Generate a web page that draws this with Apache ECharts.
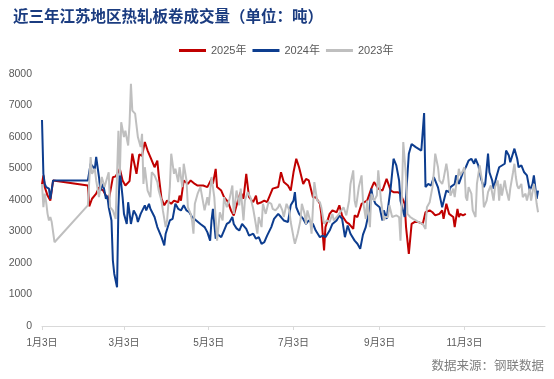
<!DOCTYPE html>
<html><head><meta charset="utf-8">
<script src="https://cdn.jsdelivr.net/npm/echarts@6/dist/echarts.min.js"></script>
<style>html,body{margin:0;padding:0;background:#fff}#c{width:554px;height:379px}</style>
</head><body><div id="c"></div>
<script>
// x values are day offsets counted from 1月3日
const tickDays = [0, 59, 120, 181, 243, 304];
const tickLabels = ['1月3日', '3月3日', '5月3日', '7月3日', '9月3日', '11月3日'];
const seriesNames = ['2025年', '2024年', '2023年'];

const days2025 = [0,1,2,4,6,8,33,34,36,39,41,44,46,48,51,53,56,58,60,63,65,68,70,72,74,76,78,81,83,84,86,88,90,93,95,98,99,100,102,105,107,110,112,116,119,122,123,125,126,129,131,134,136,138,141,143,145,147,149,152,154,155,158,160,162,166,170,172,174,177,179,181,183,185,188,190,192,195,197,200,201,202,203,204,207,209,212,214,216,219,221,224,225,227,230,232,234,237,239,242,245,248,249,251,253,256,258,261,262,264,266,268,271,274,276,279,281,283,286,288,289,291,292,293,296,297,299,300,301,303,305];
const vals2025 = [4500,4780,4410,4140,3980,4620,4460,3800,4040,4200,4400,4300,4140,3990,4720,4750,4990,4620,4460,4600,5470,4830,5450,5400,5840,5570,5360,5040,5250,4780,4040,3830,3980,3880,3980,3930,4140,3980,4620,4510,4620,4510,4460,4460,4410,4670,4510,4990,4410,4300,4090,3930,3670,3510,3980,4250,4040,4830,4090,3930,4140,3880,3930,3980,3930,4360,4410,4880,4570,4460,4300,4880,5310,5040,4510,4670,4620,4090,4090,3880,3560,2930,2400,3140,3560,3670,3610,3830,3500,3300,3240,3080,3510,3460,3880,3930,3980,4360,4570,4360,4300,4670,4730,4300,4250,4250,4200,3880,3140,2290,3240,3300,3300,3240,3610,3670,3610,3510,3560,3670,3400,3880,3930,3560,3460,3140,3720,3460,3560,3510,3560];

const days2024 = [0,1,2,3,5,6,8,9,33,35,38,39,41,42,44,46,47,48,50,51,52,54,55,56,58,59,61,62,64,66,68,69,71,74,75,77,78,81,83,86,88,89,92,94,96,98,100,102,104,106,108,111,114,117,119,121,122,123,125,126,129,131,133,135,137,138,140,142,144,147,149,152,154,156,158,160,162,165,167,170,172,174,177,179,181,182,183,185,188,190,192,195,197,200,202,204,207,209,212,214,216,218,220,222,225,227,229,231,233,236,237,238,240,243,245,246,248,249,251,253,255,257,258,261,264,266,269,273,274,275,276,278,280,282,283,285,287,288,291,293,294,297,298,300,303,305,307,309,311,312,314,316,318,319,321,322,324,325,327,329,330,333,334,336,337,340,342,343,345,347,349,351,353,354,355,356,357];
const vals2024 = [6540,4830,4510,4410,4360,4040,4620,4670,4620,5150,4990,5370,4730,4300,4510,4040,4140,3770,3350,2080,1660,1230,3770,4940,4090,3560,3240,3930,3240,3670,3500,3300,3560,3830,3670,3880,3720,3460,3140,2820,2560,2930,3350,3400,3880,3720,3670,3830,3670,3610,3460,3350,3240,3140,2980,2710,3350,3720,2770,2930,2820,3030,3240,3300,3460,3240,3100,3030,3240,3080,2870,2930,2770,2820,2610,2660,2870,3140,3400,3560,3460,3350,3300,3830,3980,4250,3770,3560,3400,3240,3350,3240,3030,2820,2870,2820,3030,3240,3350,3510,3400,2820,3190,2930,2710,2610,2450,2900,3140,3770,4360,4090,3880,3770,3350,3670,3400,3400,4410,5310,5100,4620,3980,3460,5470,5780,5680,5570,5520,6760,4410,4510,4460,4730,4750,4400,3980,3770,4300,4250,4410,4510,4780,4510,4880,5040,5250,5310,5150,5310,5100,4670,4410,4510,5470,4880,4620,4360,4730,5040,4990,5150,5570,5410,5200,5630,5310,5040,5100,4880,4780,4300,4510,4780,4410,4040,4300];

const days2023 = [0,1,2,3,4,5,6,7,9,33,35,36,38,39,41,43,45,48,49,51,53,55,56,57,59,60,62,63,64,65,67,69,71,72,73,74,76,78,79,81,83,84,86,87,89,90,92,93,95,96,98,99,101,102,104,105,107,108,109,110,112,114,117,119,120,122,124,126,128,130,131,133,135,137,138,140,142,143,145,146,148,150,152,153,155,156,158,159,161,163,165,166,168,170,171,173,174,176,178,179,181,182,184,186,187,189,190,191,193,194,196,198,200,201,203,205,207,209,210,213,214,217,219,221,222,224,225,226,228,230,231,233,234,236,237,239,241,242,244,246,247,249,250,252,253,255,257,258,259,260,262,263,265,267,269,271,274,276,277,279,281,282,283,285,286,288,289,291,292,293,294,296,297,298,299,300,301,303,304,305,306,307,309,310,312,313,315,317,318,320,321,323,325,326,328,329,330,331,333,334,336,337,339,340,341,342,343,345,346,348,349,351,352,354,355,356,357];
const vals2023 = [4510,3770,4200,3930,3560,3350,3460,3300,2660,3830,5360,4830,4990,4620,4090,4730,4410,4880,3770,3670,3400,6200,4780,6470,6000,6200,5730,6420,7690,6840,6740,6000,5680,6100,4510,5040,4300,4090,4880,4780,4570,4300,3980,3670,3140,3350,4410,5470,4830,4990,4570,5040,4410,5150,4620,3770,3560,3350,2930,3880,4200,4410,3670,4090,3830,4730,4090,2710,3610,3350,4090,3770,4040,4460,3560,4300,3830,4360,3350,3980,4250,4090,3720,3460,2930,3460,3140,3880,3560,3930,3880,3720,3670,3770,3880,3670,3460,3880,3670,3300,2820,2610,2930,3350,3880,3560,3240,3670,3350,2930,4570,3980,3930,3770,3240,3350,3300,3560,3350,3510,3460,3770,3510,3980,4510,4940,3980,3770,4410,4780,3980,3400,3980,3140,4200,3980,4140,4940,3980,3350,3460,3460,3830,3460,3510,3510,3460,2710,4090,5840,4730,3560,3460,3400,3350,3300,3240,3080,3770,3930,4410,4880,5470,5040,4620,4510,4670,5150,4880,4410,4140,4360,4090,4460,4620,4990,4780,4940,5040,4090,3980,4410,4200,3670,3460,4510,5100,4510,3770,3980,4250,4460,3980,4410,4620,3980,4510,4140,4620,4360,3980,4360,4880,5150,4730,4460,4360,4510,4090,4200,3980,4360,3980,4510,4250,3880,3610];

function pairs(d, v) { return d.map((x, i) => [x, v[i]]); }

const chart = echarts.init(document.getElementById('c'), null, { renderer: 'canvas' });
const lineSeries = (name, data, color) => ({
  name, type: 'line', data, showSymbol: false, symbol: 'none',
  lineStyle: { width: 2, color }, itemStyle: { color }, emphasis: { disabled: true }
});
chart.setOption({
  animation: false,
  backgroundColor: '#ffffff',
  title: {
    text: '近三年江苏地区热轧板卷成交量（单位：吨）', left: 8, top: 3,
    textStyle: { fontSize: 15.5, fontWeight: 'bold', color: '#1B3C80', fontFamily: 'Noto Sans CJK SC' }
  },
  legend: {
    top: 40, left: 174, itemWidth: 27, itemHeight: 3, itemGap: 6, icon: 'rect',
    textStyle: { fontSize: 11, color: '#595959', fontFamily: 'Liberation Sans, Noto Sans CJK SC' },
    data: seriesNames
  },
  grid: { left: 42, right: 9, top: 74, bottom: 53, containLabel: false, outerBoundsMode: 'none' },
  xAxis: {
    type: 'value', min: 0, max: 362,
    axisLine: { show: true, lineStyle: { color: '#D9D9D9', width: 1 } },
    axisTick: { show: true, customValues: tickDays, length: 4, lineStyle: { color: '#D9D9D9' } },
    axisLabel: {
      customValues: tickDays, formatter: v => tickLabels[tickDays.indexOf(v)],
      fontSize: 10, color: '#595959', margin: 12, fontFamily: 'Liberation Sans, Noto Sans CJK SC'
    },
    splitLine: { show: false }
  },
  yAxis: {
    type: 'value', min: 0, max: 8000, interval: 1000,
    axisLine: { show: false }, axisTick: { show: false },
    axisLabel: { fontSize: 10.5, color: '#595959', margin: 10, fontFamily: 'Liberation Sans', formatter: v => String(v) },
    splitLine: { show: false }
  },
  graphic: [{
    type: 'text', right: 10, top: 359,
    style: { text: '数据来源：钢联数据', fontSize: 12.5, fill: '#7F7F7F', fontFamily: 'Noto Sans CJK SC' }
  }],
  series: [
    lineSeries(seriesNames[0], pairs(days2025, vals2025), '#C00000'),
    lineSeries(seriesNames[1], pairs(days2024, vals2024), '#0D3D8F'),
    lineSeries(seriesNames[2], pairs(days2023, vals2023), '#BFBFBF')
  ]
});
</script></body></html>
